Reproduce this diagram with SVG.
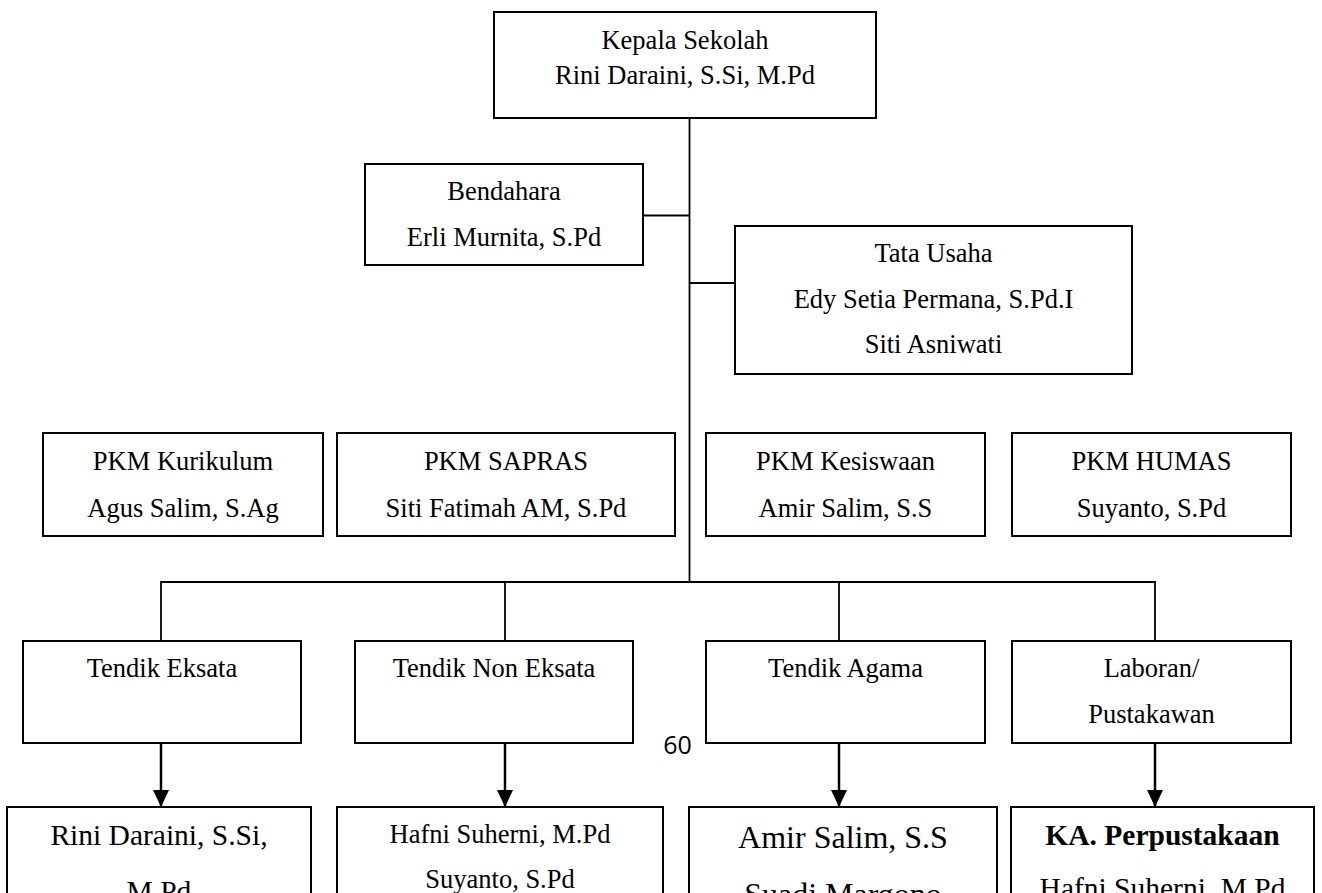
<svg xmlns="http://www.w3.org/2000/svg" width="1322" height="893" viewBox="0 0 1322 893">
  <style>
    .box { fill: #ffffff; stroke: #000000; stroke-width: 2; }
    .t { font-family: "Liberation Serif", "Times New Roman", serif; font-size: 26.5px; fill: #000000; text-anchor: middle; }
    .big { font-size: 29.5px; }
    .big2 { font-size: 32px; }
    .bold { font-weight: bold; }
    .conn { stroke: #000000; stroke-width: 1.8; fill: none; }
    .arr { stroke: #000000; stroke-width: 2.5; fill: none; marker-end: url(#ah); }
    .pg { font-family: "Open Sans", "Liberation Sans", sans-serif; font-size: 25px; fill: #000000; text-anchor: middle; }
  </style>
  <defs>
    <marker id="ah" viewBox="0 0 17 16" refX="17" refY="8" markerWidth="17" markerHeight="16" markerUnits="userSpaceOnUse" orient="auto">
      <path d="M0,0 L17,8 L0,16 z" fill="#000000"/>
    </marker>
  </defs>
  <rect width="1322" height="893" fill="#ffffff"/>

  <g id="connectors">
    <line class="conn" x1="689.5" y1="118" x2="689.5" y2="582"/>
    <line class="conn" x1="643" y1="215.5" x2="689.5" y2="215.5"/>
    <line class="conn" x1="689.5" y1="283" x2="735" y2="283"/>
    <polyline class="conn" points="161,641 161,582 1155,582 1155,641"/>
    <line class="conn" x1="505" y1="582" x2="505" y2="641"/>
    <line class="conn" x1="839" y1="582" x2="839" y2="641"/>
    <line class="arr" x1="161" y1="743" x2="161" y2="807"/>
    <line class="arr" x1="505" y1="743" x2="505" y2="807"/>
    <line class="arr" x1="839" y1="743" x2="839" y2="807"/>
    <line class="arr" x1="1155" y1="743" x2="1155" y2="807"/>
  </g>

  <g id="kepala">
    <rect class="box" x="494" y="12" width="382" height="106"/>
    <text class="t" x="685" y="49">Kepala Sekolah</text>
    <text class="t" x="685" y="84">Rini Daraini, S.Si, M.Pd</text>
  </g>

  <g id="bendahara">
    <rect class="box" x="365" y="164" width="278" height="101"/>
    <text class="t" x="504" y="200">Bendahara</text>
    <text class="t" x="504" y="246">Erli Murnita, S.Pd</text>
  </g>

  <g id="tata-usaha">
    <rect class="box" x="735" y="226" width="397" height="148"/>
    <text class="t" x="933.5" y="262">Tata Usaha</text>
    <text class="t" x="933.5" y="308">Edy Setia Permana, S.Pd.I</text>
    <text class="t" x="933.5" y="353">Siti Asniwati</text>
  </g>

  <g id="pkm-kurikulum">
    <rect class="box" x="43" y="433" width="280" height="103"/>
    <text class="t" x="183" y="470">PKM Kurikulum</text>
    <text class="t" x="183" y="517">Agus Salim, S.Ag</text>
  </g>

  <g id="pkm-sapras">
    <rect class="box" x="337" y="433" width="338" height="103"/>
    <text class="t" x="506" y="470">PKM SAPRAS</text>
    <text class="t" x="506" y="517">Siti Fatimah AM, S.Pd</text>
  </g>

  <g id="pkm-kesiswaan">
    <rect class="box" x="706" y="433" width="279" height="103"/>
    <text class="t" x="845.5" y="470">PKM Kesiswaan</text>
    <text class="t" x="845.5" y="517">Amir Salim, S.S</text>
  </g>

  <g id="pkm-humas">
    <rect class="box" x="1012" y="433" width="279" height="103"/>
    <text class="t" x="1151.5" y="470">PKM HUMAS</text>
    <text class="t" x="1151.5" y="517">Suyanto, S.Pd</text>
  </g>

  <g id="tendik-eksata">
    <rect class="box" x="23" y="641" width="278" height="102"/>
    <text class="t" x="162" y="677">Tendik Eksata</text>
  </g>

  <g id="tendik-non-eksata">
    <rect class="box" x="355" y="641" width="278" height="102"/>
    <text class="t" x="494" y="677">Tendik Non Eksata</text>
  </g>

  <g id="tendik-agama">
    <rect class="box" x="706" y="641" width="279" height="102"/>
    <text class="t" x="845.5" y="677">Tendik Agama</text>
  </g>

  <g id="laboran">
    <rect class="box" x="1012" y="641" width="279" height="102"/>
    <text class="t" x="1151.5" y="677">Laboran/</text>
    <text class="t" x="1151.5" y="723">Pustakawan</text>
  </g>

  <g id="page-number">
    <text class="pg" x="677.5" y="754">60</text>
  </g>

  <g id="staff-eksata">
    <rect class="box" x="7" y="807" width="304" height="120"/>
    <text class="t big" x="159" y="845">Rini Daraini, S.Si,</text>
    <text class="t big" x="159" y="901">M.Pd</text>
  </g>

  <g id="staff-non-eksata">
    <rect class="box" x="337" y="807" width="326" height="120"/>
    <text class="t" x="500" y="843">Hafni Suherni, M.Pd</text>
    <text class="t" x="500" y="888">Suyanto, S.Pd</text>
  </g>

  <g id="staff-agama">
    <rect class="box" x="689" y="807" width="308" height="120"/>
    <text class="t big2" x="843" y="848">Amir Salim, S.S</text>
    <text class="t big2" x="843" y="905">Suadi Margono</text>
  </g>

  <g id="staff-perpustakaan">
    <rect class="box" x="1011" y="807" width="303" height="120"/>
    <text class="t big bold" x="1162.5" y="845">KA. Perpustakaan</text>
    <text class="t big" x="1162.5" y="898">Hafni Suherni, M.Pd</text>
  </g>
</svg>
